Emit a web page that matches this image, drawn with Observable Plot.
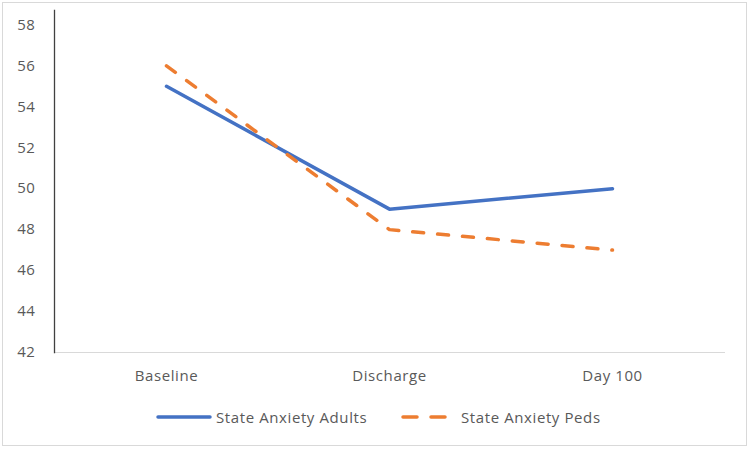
<!DOCTYPE html>
<html>
<head>
<meta charset="utf-8">
<script src="https://cdn.jsdelivr.net/npm/d3@7"></script>
<script src="https://cdn.jsdelivr.net/npm/@observablehq/plot@0.6"></script>
<style>
  html, body { margin: 0; padding: 0; background: #fff; }
  body { width: 750px; height: 450px; position: relative; overflow: hidden; font-family: "Open Sans", Lato, sans-serif; }
  #frame { position: absolute; left: 2px; top: 2px; width: 745px; height: 444px; border: 1px solid #d9d9d9; box-sizing: border-box; }
  #chart { position: absolute; left: 0; top: 0; }
  #chart text { letter-spacing: 0.6px; }
  #legend { position: absolute; left: 0; top: 406px; width: 750px; height: 22px; font-size: 15px; color: #595959; letter-spacing: 0.6px; }
  .sw { position: absolute; top: 0; }
  .lbl { position: absolute; top: 0; height: 22px; line-height: 22px; white-space: nowrap; }
</style>
</head>
<body>
<div id="frame"></div>
<div id="chart"></div>
<div id="legend"></div>
<script>
const categories = ["Baseline", "Discharge", "Day 100"];
const seriesNames = ["State Anxiety Adults", "State Anxiety Peds"];
const adults = [55, 49, 50];
const peds = [56, 48, 47];
const yTicks = [42, 44, 46, 48, 50, 52, 54, 56, 58];
const colors = ["#4472C4", "#ED7D31"];

const rows = [
  ...categories.map((c, i) => ({cat: c, value: adults[i], series: seriesNames[0]})),
  ...categories.map((c, i) => ({cat: c, value: peds[i], series: seriesNames[1]}))
];

const chart = Plot.plot({
  width: 750,
  height: 390,
  marginLeft: 54,
  marginRight: 26,
  marginTop: 10,
  marginBottom: 38,
  style: {fontFamily: "'Open Sans', Lato, sans-serif", fontSize: "15px", color: "#595959", background: "transparent"},
  x: {type: "point", domain: categories, padding: 0.5, label: null},
  y: {domain: [42, 58.7], label: null},
  marks: [
    Plot.frame({anchor: "bottom", stroke: "#d9d9d9", strokeOpacity: 1}),
    Plot.frame({anchor: "left", stroke: "#404040", strokeOpacity: 1, strokeWidth: 1.3}),
    Plot.axisY({ticks: yTicks, tickSize: 0, tickPadding: 19, fill: "#595959", fontSize: 15}),
    Plot.axisX({tickSize: 0, tickPadding: 18, fill: "#595959", fontSize: 15}),
    Plot.line(rows.filter(d => d.series === seriesNames[0]), {
      x: "cat", y: "value", stroke: colors[0], strokeWidth: 3.5, strokeLinecap: "round", strokeLinejoin: "round"
    }),
    Plot.line(rows.filter(d => d.series === seriesNames[1]), {
      x: "cat", y: "value", stroke: colors[1], strokeWidth: 3.5, strokeLinecap: "round", strokeLinejoin: "round",
      strokeDasharray: "11,14"
    })
  ]
});
document.getElementById("chart").appendChild(chart);

// legend
const legend = document.getElementById("legend");
const items = [
  {name: seriesNames[0], color: colors[0], dash: null, left: 156, w: 56, text: 216},
  {name: seriesNames[1], color: colors[1], dash: "14,14", left: 401, w: 52, text: 461}
];
const ns = "http://www.w3.org/2000/svg";
for (const it of items) {
  const svg = document.createElementNS(ns, "svg");
  svg.setAttribute("class", "sw");
  svg.style.left = it.left + "px";
  svg.setAttribute("width", it.w);
  svg.setAttribute("height", 22);
  const ln = document.createElementNS(ns, "line");
  ln.setAttribute("x1", 2); ln.setAttribute("x2", it.w - 2);
  ln.setAttribute("y1", 11); ln.setAttribute("y2", 11);
  ln.setAttribute("stroke", it.color);
  ln.setAttribute("stroke-width", 3.5);
  ln.setAttribute("stroke-linecap", "round");
  if (it.dash) ln.setAttribute("stroke-dasharray", it.dash);
  svg.appendChild(ln);
  legend.appendChild(svg);
  const sp = document.createElement("div");
  sp.className = "lbl";
  sp.style.left = it.text + "px";
  sp.textContent = it.name;
  legend.appendChild(sp);
}
</script>
</body>
</html>
